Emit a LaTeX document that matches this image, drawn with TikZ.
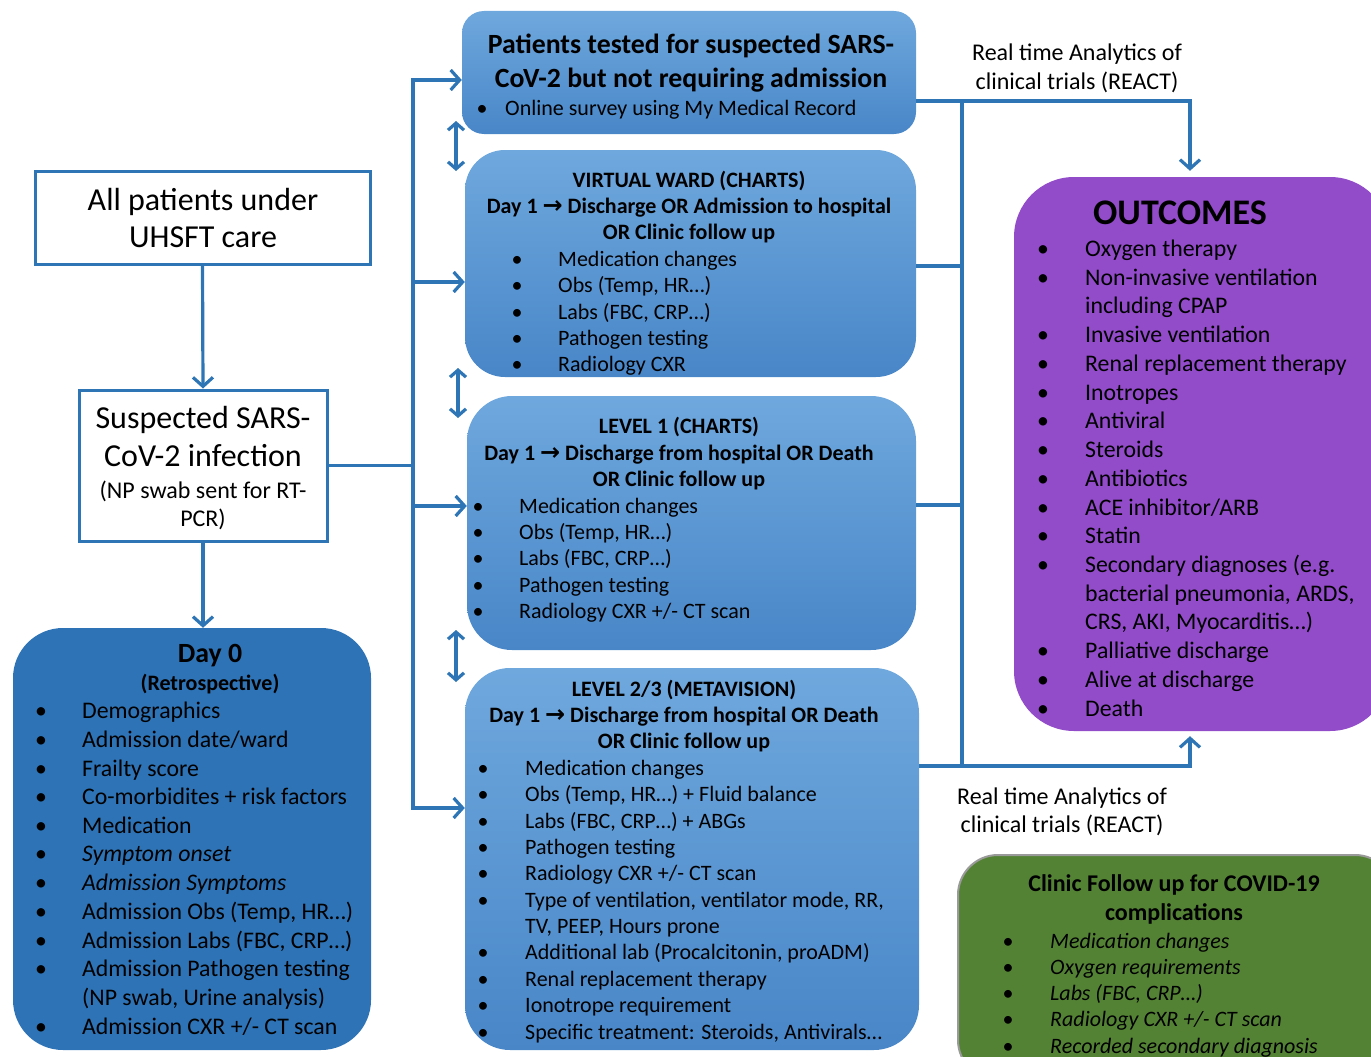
\documentclass[tikz,border=0pt]{standalone}
\usepackage{fontspec}
\setmainfont{Carlito}
\newfontfamily\dejavu{DejaVu Sans}
\usetikzlibrary{arrows.meta,calc}
\definecolor{lineblue}{HTML}{2E75B6}
\definecolor{boxtop}{HTML}{6FA8DD}
\definecolor{boxbot}{HTML}{4886C8}
\definecolor{dayzero}{HTML}{2E73B5}
\definecolor{purp}{HTML}{924BC9}
\definecolor{grn}{HTML}{548235}
\definecolor{grborder}{HTML}{9A9A9A}
\newcommand{\rarr}{{\dejavu\bfseries\fontsize{24}{26}\selectfont →}}
\begin{document}
\begin{tikzpicture}[x=1pt,y=-1pt,
  conn/.style={draw=lineblue, line width=3.2pt},
  arr/.style={conn, -{Straight Barb[length=9pt,width=20pt]}},
  dbl/.style={conn, {Straight Barb[length=7pt,width=16pt]}-{Straight Barb[length=7pt,width=16pt]}},
  midbox/.style={rounded corners=#1, top color=boxtop, bottom color=boxbot, draw=none, inner sep=0pt},
  plainbox/.style={draw=lineblue, line width=3pt, fill=white, inner sep=0pt},
  sA/.style={inner sep=0pt, yshift=-2.5pt, font=\fontsize{22}{26}\selectfont, text height=15.4pt, text depth=4.4pt},
  sAb/.style={sA, font=\bfseries\fontsize{22}{26}\selectfont},
  sB/.style={inner sep=0pt, yshift=-2.5pt, font=\fontsize{23.8}{28}\selectfont, text height=16.7pt, text depth=4.8pt},
  sBb/.style={inner sep=0pt, yshift=-2.5pt, font=\bfseries\fontsize{24}{28}\selectfont, text height=16.8pt, text depth=4.8pt},
  sR/.style={inner sep=0pt, yshift=-2.5pt, font=\fontsize{24}{28}\selectfont, text height=16.8pt, text depth=4.8pt},
  sT/.style={inner sep=0pt, yshift=-2.5pt, font=\bfseries\fontsize{27.8}{32}\selectfont, text height=19.5pt, text depth=5.6pt},
  sL/.style={inner sep=0pt, yshift=-2.5pt, font=\fontsize{32}{38}\selectfont, text height=22.4pt, text depth=6.4pt},
  sO/.style={inner sep=0pt, yshift=-2.5pt, font=\bfseries\fontsize{36}{42}\selectfont, text height=25.2pt, text depth=7.2pt},
  it/.style={anchor=west},
]
\useasboundingbox (0,0) rectangle (1371,1057);
\clip (0,0) rectangle (1371,1057);

% ---------- boxes ----------
\node[plainbox, minimum width=335pt, minimum height=93pt] (allp) at (202.5,217.5) {};
\node[plainbox, minimum width=248pt, minimum height=151pt] (susp) at (203,465.5) {};
\node[rounded corners=50pt, fill=dayzero, inner sep=0pt, minimum width=358pt, minimum height=422pt] (day0) at (192,839) {};
\node[midbox=22pt, minimum width=454pt, minimum height=123pt] (top) at (689,72.5) {};
\node[midbox=40pt, minimum width=451pt, minimum height=227pt] (vw) at (690.5,263.5) {};
\node[midbox=45pt, minimum width=449pt, minimum height=254pt] (l1) at (691.5,523) {};
\node[midbox=45pt, minimum width=454pt, minimum height=382pt] (l23) at (692,859) {};
\node[rounded corners=60pt, fill=purp, inner sep=0pt, minimum width=376pt, minimum height=554pt] (outc) at (1202,454) {};
\node[rounded corners=40pt, fill=grn, draw=grborder, line width=2pt, inner sep=0pt, minimum width=437pt, minimum height=225pt] (grn) at (1176.5,967.5) {};

% ---------- left boxes text ----------
\node[sL] (allp1) at (203,200) {All patients under};
\node[sL] (allp2) at (203,237) {UHSFT care};
\node[sL] (susp1) at (203,418) {Suspected SARS-};
\node[sL] (susp2) at (203,456) {CoV-2 infection};
\node[sR] (susp3) at (203,490) {(NP swab sent for RT-};
\node[sR] (susp4) at (203,518) {PCR)};

% ---------- Day 0 ----------
\node[sT] (d0t) at (210,653) {Day 0};
\node[sAb] (d0s) at (210,682) {(Retrospective)};
\foreach \yy/\tx [count=\i] in {710/{Demographics},739/{Admission date/ward},768/{Frailty score},796/{Co-morbidites + risk factors},825/{Medication},853/{\itshape Symptom onset},882/{\itshape Admission Symptoms},911/{Admission Obs (Temp, HR…)},940/{Admission Labs (FBC, CRP…)},968/{Admission Pathogen testing},1026/{Admission CXR +/- CT scan}}{
  \node[sB] (d0b\i) at (41,\yy) {•};
  \node[sB,it] (d0i\i) at (82,\yy) {\tx};
}
\node[sB,it] (d0c) at (82,997) {(NP swab, Urine analysis)};

% ---------- top box ----------
\node[sT] (topt1) at (691,44) {Patients tested for suspected SARS-};
\node[sT] (topt2) at (691,78) {CoV-2 but not requiring admission};
\node[sA] (topb) at (482,107) {•};
\node[sA,it] (topi) at (505,107) {Online survey using My Medical Record};

% ---------- virtual ward ----------
\node[sAb] (vwt1) at (689,179) {VIRTUAL WARD (CHARTS)};
\node[sAb] (vwt2) at (689,205) {Day 1 \rarr{} Discharge OR Admission to hospital};
\node[sAb] (vwt3) at (689,231) {OR Clinic follow up};
\foreach \yy/\tx [count=\i] in {258/{Medication changes},284/{Obs (Temp, HR…)},311/{Labs (FBC, CRP…)},337/{Pathogen testing},363/{Radiology CXR}}{
  \node[sA] (vwb\i) at (517,\yy) {•};
  \node[sA,it] (vwi\i) at (558,\yy) {\tx};
}

% ---------- level 1 ----------
\node[sAb] (l1t1) at (679,425) {LEVEL 1 (CHARTS)};
\node[sAb] (l1t2) at (679,452) {Day 1 \rarr{} Discharge from hospital OR Death};
\node[sAb] (l1t3) at (679,478) {OR Clinic follow up};
\foreach \yy/\tx [count=\i] in {505/{Medication changes},531/{Obs (Temp, HR…)},557/{Labs (FBC, CRP…)},584/{Pathogen testing},610/{Radiology CXR +/- CT scan}}{
  \node[sA] (l1b\i) at (478,\yy) {•};
  \node[sA,it] (l1i\i) at (519,\yy) {\tx};
}

% ---------- level 2/3 ----------
\node[sAb] (l23t1) at (684,688) {LEVEL 2/3 (METAVISION)};
\node[sAb] (l23t2) at (684,714) {Day 1 \rarr{} Discharge from hospital OR Death};
\node[sAb] (l23t3) at (684,740) {OR Clinic follow up};
\foreach \yy/\tx [count=\i] in {767/{Medication changes},793/{Obs (Temp, HR…) + Fluid balance},820/{Labs (FBC, CRP…) + ABGs},846/{Pathogen testing},872/{Radiology CXR +/- CT scan},899/{Type of ventilation, ventilator mode, RR,},951/{Additional lab (Procalcitonin, proADM)},978/{Renal replacement therapy},1004/{Ionotrope requirement},1031/{Specific treatment: Steroids, Antivirals…}}{
  \node[sA] (l23b\i) at (483,\yy) {•};
  \node[sA,it] (l23i\i) at (525,\yy) {\tx};
}
\node[sA,it] (l23c) at (525,925) {TV, PEEP, Hours prone};

% ---------- outcomes ----------
\node[sO] (oT) at (1180,213) {OUTCOMES};
\foreach \yy/\tx [count=\i] in {248/{Oxygen therapy},277/{Non-invasive ventilation},334/{Invasive ventilation},363/{Renal replacement therapy},392/{Inotropes},420/{Antiviral},449/{Steroids},478/{Antibiotics},507/{ACE inhibitor/ARB},535/{Statin},564/{Secondary diagnoses (e.g.},650/{Palliative discharge},679/{Alive at discharge},708/{Death}}{
  \node[sB] (ob\i) at (1043,\yy) {•};
  \node[sB,it] (oi\i) at (1085,\yy) {\tx};
}
\node[sB,it] (oc1) at (1085,305) {including CPAP};
\node[sB,it] (oc2) at (1085,593) {bacterial pneumonia, ARDS,};
\node[sB,it] (oc3) at (1085,621) {CRS, AKI, Myocarditis…)};

% ---------- clinic follow up ----------
\node[sBb] (gt1) at (1174,883) {Clinic Follow up for COVID-19};
\node[sBb] (gt2) at (1174,912) {complications};
\foreach \yy/\tx [count=\i] in {940/{Medication changes},966/{Oxygen requirements},992/{Labs (FBC, CRP…)},1018/{Radiology CXR +/- CT scan},1045/{Recorded secondary diagnosis}}{
  \node[sA] (gb\i) at (1008,\yy) {•};
  \node[sA,it,font=\itshape\fontsize{22}{26}\selectfont] (gi\i) at (1050,\yy) {\tx};
}

% ---------- REACT labels ----------
\node[sR] (re1) at (1077,52) {Real time Analytics of};
\node[sR] (re2) at (1077,81) {clinical trials (REACT)};
\node[sR] (re3) at (1062,796) {Real time Analytics of};
\node[sR] (re4) at (1062,824) {clinical trials (REACT)};

% ---------- connectors ----------
\draw[arr] (allp.south) -- (susp.north);
\draw[arr] (susp.south) -- (susp.south |- day0.north);

\coordinate (busT) at (413,80);
\coordinate (busB) at (413,808);
\coordinate (bvw) at (413,282);
\coordinate (bl1) at (413,506);
\draw[conn] (susp.east) -- (susp.east -| busT);
\draw[conn, {Straight Barb[length=9pt,width=20pt]}-{Straight Barb[length=9pt,width=20pt]}] (top.west |- busT) -- (busT) -- (busB) -- (l23.west |- busB);
\draw[arr] (bvw) -- (vw.west |- bvw);
\draw[arr] (bl1) -- (l1.west |- bl1);

\coordinate (d1a) at (456,121); \coordinate (d1b) at (456,171);
\coordinate (d2a) at (458,368); \coordinate (d2b) at (458,418);
\coordinate (d3a) at (456,630); \coordinate (d3b) at (456,682);
\draw[dbl] (d1a) -- (d1b);
\draw[dbl] (d2a) -- (d2b);
\draw[dbl] (d3a) -- (d3b);

\coordinate (rT) at (1190,101);
\coordinate (vT) at (962,101);
\coordinate (vB) at (962,766);
\coordinate (rB) at (1190,766);
\coordinate (vwR) at (962,266);
\coordinate (l1R) at (962,505);
\draw[arr] (top.east |- rT) -- (rT) -- ($(outc.north -| rT)+(0,-6)$);
\draw[conn] (vT) -- (vB);
\draw[conn] (vw.east |- vwR) -- (vwR);
\draw[conn] (l1.east |- l1R) -- (l1R);
\draw[arr] (l23.east |- rB) -- (rB) -- ($(outc.south -| rB)+(0,5)$);
\end{tikzpicture}
\end{document}
